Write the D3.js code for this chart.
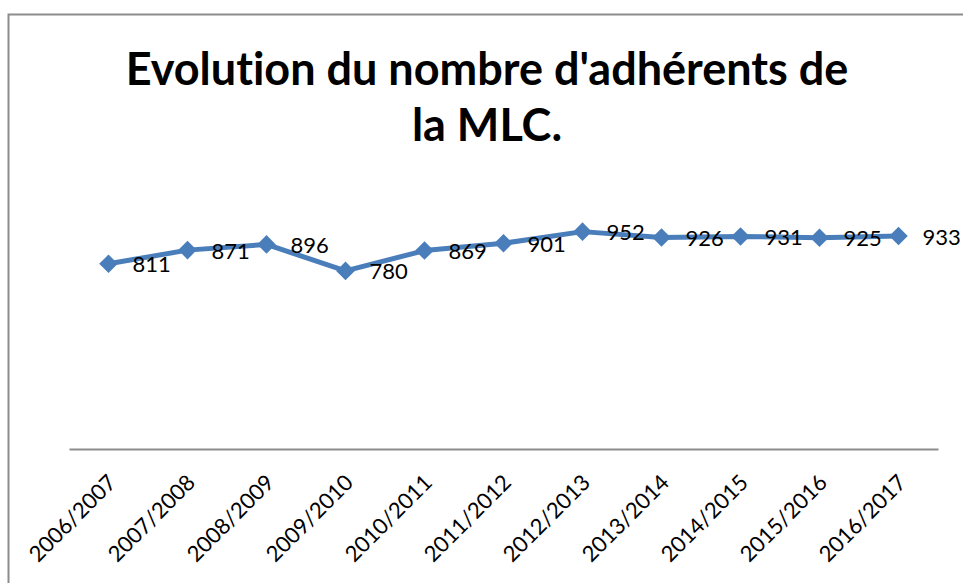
<!DOCTYPE html>
<html>
<head>
<meta charset="utf-8">
<script src="https://cdn.jsdelivr.net/npm/d3@7"></script>
<style>
  body { margin: 0; background: #fff; }
  svg { display: block; }
  text { font-variant-ligatures: none; font-feature-settings: "liga" 0; }
</style>
</head>
<body>
<svg id="chart"></svg>
<script>
    const width = 963;
    const height = 583;

    // data
    const seasons = ["2006/2007", "2007/2008", "2008/2009", "2009/2010", "2010/2011", "2011/2012",
                     "2012/2013", "2013/2014", "2014/2015", "2015/2016", "2016/2017"];
    const adherents = [811, 871, 896, 780, 869, 901, 952, 926, 931, 925, 933];
    const titleLines = ["Evolution du nombre d'adhérents de", "la MLC."];

    const blue = "#4a7ebb";

    const svg = d3.select("#chart")
        .attr("width", width)
        .attr("height", height);

    // chart border (right and bottom edges are off-screen)
    svg.append("rect")
        .attr("x", 8.5)
        .attr("y", 14.5)
        .attr("width", 1000)
        .attr("height", 1000)
        .attr("fill", "#fff")
        .style("stroke", "#8c8c8c")
        .style("stroke-width", 2);

    // title
    svg.append("g")
        .selectAll("text")
        .data(titleLines)
        .join("text")
            .attr("x", 487)
            .attr("y", (d, i) => 85 + i * 56)
            .attr("text-anchor", "middle")
            .style("font-family", "Lato, 'Open Sans', sans-serif")
            .style("font-weight", "bold")
            .style("font-size", "45px")
            .text(d => d);

    // scales
    const x = d3.scaleBand()
        .domain(seasons)
        .range([69, 938]);

    const y = d3.scaleLinear()
        .domain([0, 1200])
        .range([449, 175]);

    // x axis
    const xAxis = svg.append("g")
        .attr("transform", "translate(0,449)")
        .call(d3.axisBottom(x).tickSize(0).tickPadding(0));

    xAxis.select(".domain")
        .style("stroke", "#8c8c8c")
        .style("stroke-width", 2);

    xAxis.selectAll("text")
        .attr("text-anchor", "end")
        .attr("dy", 0)
        .attr("y", 0)
        .attr("transform", "translate(9,35) rotate(-45)")
        .style("font-family", "Lato, 'Open Sans', sans-serif")
        .style("font-size", "22px")
        .style("fill", "#000");

    const pts = seasons.map((s, i) => ({ s: s, v: adherents[i] }));

    // line
    const line = d3.line()
        .x(d => x(d.s) + x.bandwidth() / 2)
        .y(d => y(d.v));

    svg.append("path")
        .datum(pts)
        .attr("d", line)
        .style("fill", "none")
        .style("stroke", blue)
        .style("stroke-width", 5)
        .style("stroke-linejoin", "round");

    // diamond markers
    svg.append("g")
        .selectAll("path")
        .data(pts)
        .join("path")
            .attr("transform", d => "translate(" + (x(d.s) + x.bandwidth() / 2) + "," + y(d.v) + ")")
            .attr("d", d3.symbol().type(d3.symbolDiamond2).size(220))
            .style("fill", blue);

    // value labels
    svg.append("g")
        .selectAll("text")
        .data(pts)
        .join("text")
            .attr("x", d => x(d.s) + x.bandwidth() / 2 + 24)
            .attr("y", d => y(d.v) + 3)
            .attr("dominant-baseline", "middle")
            .style("font-family", "Lato, 'Open Sans', sans-serif")
            .style("font-size", "22px")
            .text(d => d.v);
</script>
</body>
</html>
